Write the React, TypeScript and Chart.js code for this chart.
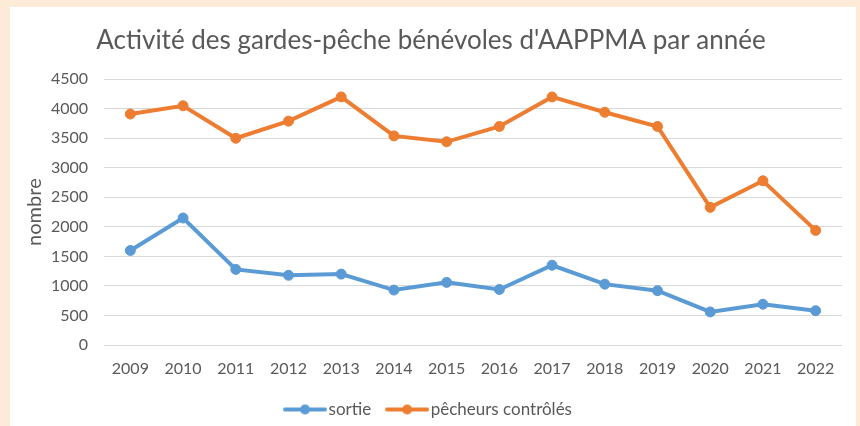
import React, { useEffect, useRef } from "react";
import { Chart, registerables } from "chart.js";

Chart.register(...registerables);

const years = ["2009", "2010", "2011", "2012", "2013", "2014", "2015", "2016", "2017", "2018", "2019", "2020", "2021", "2022"];
const sortie = [1600, 2150, 1280, 1180, 1200, 930, 1060, 940, 1350, 1030, 920, 560, 690, 580];
const pecheurs = [3910, 4050, 3500, 3790, 4200, 3540, 3440, 3700, 4200, 3940, 3700, 2330, 2780, 1940];
const seriesNames = ["sortie", "pêcheurs contrôlés"];
const seriesColors = ["#5B9BD5", "#ED7D31"];
const chartTitle = "Activité des gardes-pêche bénévoles d'AAPPMA par année";
const yTitle = "nombre";
const yMin = 0;
const yMax = 4500;
const yStep = 500;

const FONT = "Lato, 'Open Sans', sans-serif";
const TEXT = "#595959";

function makeIcon(color: string): HTMLCanvasElement {
  const c = document.createElement("canvas");
  c.width = 44;
  c.height = 12;
  const ctx = c.getContext("2d")!;
  ctx.strokeStyle = color;
  ctx.lineWidth = 4;
  ctx.lineCap = "round";
  ctx.beginPath();
  ctx.moveTo(2, 6);
  ctx.lineTo(42, 6);
  ctx.stroke();
  ctx.fillStyle = color;
  ctx.beginPath();
  ctx.arc(22, 6, 5, 0, Math.PI * 2);
  ctx.fill();
  return c;
}

export default function App() {
  const ref = useRef<HTMLCanvasElement | null>(null);

  useEffect(() => {
    if (!ref.current) return;
    const icons = seriesColors.map(makeIcon);
    const chart = new Chart(ref.current, {
      type: "line",
      data: {
        labels: years,
        datasets: [
          {
            label: seriesNames[0],
            data: sortie,
            borderColor: seriesColors[0],
            backgroundColor: seriesColors[0],
            borderWidth: 4,
            pointRadius: 5,
            pointBorderWidth: 1,
            pointBackgroundColor: seriesColors[0],
            pointBorderColor: seriesColors[0],
            tension: 0,
          },
          {
            label: seriesNames[1],
            data: pecheurs,
            borderColor: seriesColors[1],
            backgroundColor: seriesColors[1],
            borderWidth: 4,
            pointRadius: 5,
            pointBorderWidth: 1,
            pointBackgroundColor: seriesColors[1],
            pointBorderColor: seriesColors[1],
            tension: 0,
          },
        ],
      },
      options: {
        responsive: false,
        animation: false,
        devicePixelRatio: 1,
        layout: { padding: { left: 20, right: 18, top: 0, bottom: -2 } },
        plugins: {
          title: {
            display: true,
            text: chartTitle,
            color: TEXT,
            font: { family: FONT, size: 26, weight: "normal" },
            padding: { top: 25, bottom: 23 },
          },
          legend: {
            display: true,
            position: "bottom",
            labels: {
              usePointStyle: true,
              pointStyleWidth: 30,
              boxHeight: 12,
              padding: 21,
              color: TEXT,
              font: { family: FONT, size: 17 },
              generateLabels: (c: any) => {
                const items = (Chart as any).defaults.plugins.legend.labels.generateLabels(c);
                items.forEach((it: any, i: number) => {
                  it.pointStyle = icons[i];
                });
                return items;
              },
            },
          },
          tooltip: { enabled: false },
        },
        scales: {
          x: {
            offset: true,
            grid: { display: false, drawTicks: false },
            border: { display: false },
            ticks: { color: TEXT, font: { family: FONT, size: 16 }, padding: 14, maxRotation: 0 },
            afterFit: (s: any) => {
              s.height = 35;
            },
          },
          y: {
            min: yMin,
            max: yMax,
            ticks: {
              stepSize: yStep,
              color: TEXT,
              font: { family: FONT, size: 16 },
              padding: 16,
              callback: (v: any) => String(v),
            },
            grid: { color: "#D9D9D9", lineWidth: 1, drawTicks: false },
            border: { display: false },
            title: {
              display: true,
              text: yTitle,
              color: TEXT,
              font: { family: FONT, size: 20 },
              padding: { top: 3, bottom: 0 },
            },
            afterFit: (s: any) => {
              s.width = 84;
            },
          },
        },
      },
    });
    return () => chart.destroy();
  }, []);

  return (
    <div style={{ position: "fixed", left: 0, top: 0, width: 860, height: 426, background: "#FDEAD7" }}>
      <div style={{ position: "absolute", left: 10, top: 7, width: 846, height: 419, background: "#FFFFFF" }} />
      <canvas ref={ref} width={860} height={426} style={{ position: "absolute", left: 0, top: 0, width: 860, height: 426 }} />
    </div>
  );
}
